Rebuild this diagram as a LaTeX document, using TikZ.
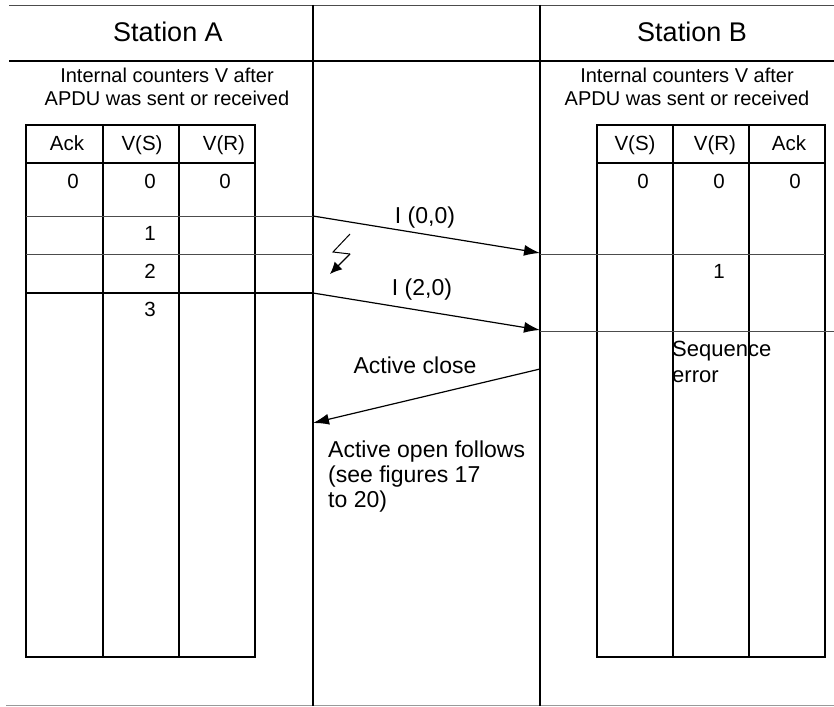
\documentclass[tikz,border=0pt]{standalone}
\usepackage{fontspec}
\setmainfont{Liberation Sans}
\usetikzlibrary{arrows.meta}
\begin{document}
\begin{tikzpicture}[x=1pt,y=-1pt,
  frame/.style={line width=1.6pt,black},
  rowrule/.style={line width=0.9pt,black!70},
  boldrule/.style={line width=1.4pt,black},
  title/.style={font=\fontsize{27}{30}\selectfont,inner sep=0pt},
  note/.style={font=\fontsize{20}{23}\selectfont,align=center,inner sep=0pt},
  cell/.style={font=\fontsize{20.5}{24}\selectfont,inner sep=0pt,anchor=base},
  msg/.style={font=\fontsize{23}{25}\selectfont,inner sep=0pt},
  msgarrow/.style={line width=1.2pt,-{Latex[length=16pt,width=11pt]}},
]
\useasboundingbox (0,0) rectangle (834,706);

% outer rules and station columns
\draw[rowrule] (9,5) -- (834,5);
\draw[frame] (9,61) -- (834,61);
\draw[line width=1pt,black!40] (6,705) -- (834,705);
\draw[frame] (313,5) -- (313,706);
\draw[frame] (540,5) -- (540,706);

% station headings
\node[title] (stA) at (168,32) {Station A};
\node[title] (stB) at (692,32) {Station B};
\node[note] (noteA) at (167,87) {Internal counters V after\\APDU was sent or received};
\node[note] (noteB) at (687,87) {Internal counters V after\\APDU was sent or received};

% counter table of station A
\draw[frame] (26,125) rectangle (255,657);
\draw[frame] (26,163) -- (255,163);
\draw[frame] (103,125) -- (103,657);
\draw[frame] (179,125) -- (179,657);
\draw[rowrule] (26,216) -- (313,216);
\draw[rowrule] (26,254) -- (313,254);
\draw[boldrule] (26,293) -- (313,293);

\node[cell] (hAack) at (67,150) {Ack};
\node[cell] (hAvs)  at (142,150) {V(S)};
\node[cell] (hAvr)  at (224,150) {V(R)};
\node[cell] (a00) at (73,188) {0};
\node[cell] (a01) at (150,188) {0};
\node[cell] (a02) at (225,188) {0};
\node[cell] (a11) at (150,240) {1};
\node[cell] (a21) at (150,278) {2};
\node[cell] (a31) at (150,316) {3};

% counter table of station B
\draw[frame] (597,125) rectangle (825,657);
\draw[frame] (597,163) -- (825,163);
\draw[frame] (673,125) -- (673,657);
\draw[frame] (749,125) -- (749,657);
\draw[rowrule] (540,254) -- (825,254);
\draw[rowrule] (540,331) -- (834,331);

\node[cell] (hBvs)  at (635,150) {V(S)};
\node[cell] (hBvr)  at (715,150) {V(R)};
\node[cell] (hBack) at (789,150) {Ack};
\node[cell] (b00) at (643,188) {0};
\node[cell] (b01) at (719,188) {0};
\node[cell] (b02) at (795,188) {0};
\node[cell] (b11) at (719,278) {1};
\node[font=\fontsize{22}{26}\selectfont,align=left,inner sep=0pt,anchor=west]
  (seqerr) at (672,362) {Sequence\\error};

% message exchange
\coordinate (i00s) at (313,216);
\coordinate (i00e) at (540,253);
\coordinate (i20s) at (313,293);
\coordinate (i20e) at (540,330);
\coordinate (acs) at (540,369);
\coordinate (ace) at (313,423);

\draw[msgarrow] (i00s) -- (i00e);
\draw[msgarrow] (i20s) -- (i20e);
\draw[msgarrow] (acs) -- (ace);

\node[msg] (l00) at (425,218) {I (0,0)};
\node[msg] (l20) at (422,290) {I (2,0)};
\node[msg] (lac) at (415,365) {Active close};
\node[font=\fontsize{23}{25}\selectfont,align=left,inner sep=0pt,anchor=west]
  (lao) at (328,477) {Active open follows\\(see figures 17\\to 20)};

% loss symbol
\draw[line width=1pt] (350,234) -- (333,252) -- (350,254);
\draw[line width=1.2pt,-{Latex[length=12pt,width=11pt]}] (350,254) -- (330,274);
\end{tikzpicture}
\end{document}
